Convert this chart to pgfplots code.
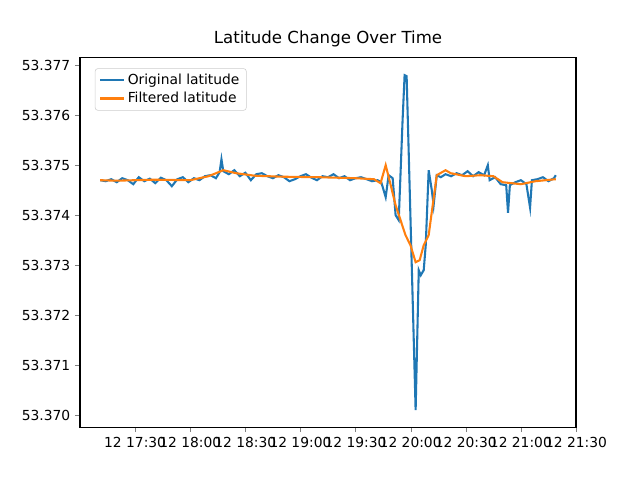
\documentclass[border=0pt]{standalone}
\usepackage{pgfplots}
\pgfplotsset{compat=1.18}
\usepackage{fontspec}
\setmainfont{DejaVu Sans}
\definecolor{cA}{HTML}{1F77B4}
\definecolor{cB}{HTML}{FF7F0E}
\begin{document}
\fontsize{10}{12}\selectfont
\begin{tikzpicture}
\path[use as bounding box] (-0.8in,-0.528in) rectangle (5.6in,4.272in);
\begin{axis}[scale only axis, width=4.96in, height=3.70in,
 xmin=0, xmax=270, ymin=-0.24, ymax=7.16,
 xtick={30,60,90,120,150,180,210,240,270},
 xticklabels={12 17:30,12 18:00,12 18:30,12 19:00,12 19:30,12 20:00,12 20:30,12 21:00,12 21:30},
 ytick={0,1,2,3,4,5,6,7},
 yticklabels={53.370,53.371,53.372,53.373,53.374,53.375,53.376,53.377},
 tick align=outside, tick pos=left, major tick length=3.5pt,
 ticklabel style={font=\fontsize{10}{12}\selectfont},
 title={Latitude Change Over Time}, title style={font=\fontsize{12}{14}\selectfont, yshift=-2pt},
 legend pos=north west, legend cell align=left,
 legend style={draw=black!20, rounded corners=2pt, font=\fontsize{10}{12}\selectfont},
 axis line style={line width=0.8pt}]
\addplot[cA, line width=1.5pt] coordinates {
(11,4.70)(14,4.68)(17,4.72)(20,4.66)(23,4.74)(26,4.70)(29,4.62)(32,4.76)(35,4.68)(38,4.73)(41,4.64)(44,4.75)(47,4.70)(50,4.58)(53,4.72)(56,4.76)(59,4.66)(62,4.74)(65,4.70)(68,4.78)(71,4.80)(74,4.74)(76,4.86)(77,5.12)(78,4.88)(81,4.82)(84,4.90)(87,4.78)(90,4.85)(93,4.70)(96,4.82)(99,4.84)(102,4.78)(105,4.74)(108,4.80)(111,4.76)(114,4.68)(117,4.72)(120,4.78)(123,4.82)(126,4.75)(129,4.70)(132,4.78)(135,4.76)(138,4.82)(141,4.74)(144,4.78)(147,4.70)(150,4.74)(153,4.76)(156,4.72)(159,4.68)(162,4.70)(164,4.66)(166.4,4.36)(168,4.80)(170.2,4.74)(171.8,4.00)(173.5,3.90)(175.6,5.90)(176.7,6.80)(177.8,6.78)(178.9,5.30)(181.1,2.30)(182.7,0.10)(184.4,2.90)(185.5,2.80)(187.1,2.90)(188.2,3.40)(189.8,4.90)(191.5,4.50)(192.5,4.20)(194.2,4.80)(196.4,4.76)(199,4.82)(202,4.78)(205,4.84)(208,4.80)(211,4.88)(214,4.78)(217,4.86)(220,4.80)(222,5.00)(223,4.70)(226,4.76)(229,4.62)(232,4.60)(233,4.05)(234,4.60)(237,4.66)(240,4.70)(243,4.62)(245,4.15)(246,4.70)(249,4.72)(252,4.76)(255,4.68)(258,4.74)(259,4.80)};
\addlegendentry{Original latitude}
\addplot[cB, line width=1.5pt] coordinates {
(11,4.70)(20,4.69)(40,4.71)(60,4.70)(70,4.78)(78,4.90)(85,4.84)(95,4.79)(110,4.77)(130,4.76)(150,4.74)(160,4.72)(163.6,4.64)(166.4,5.00)(169,4.62)(171.8,4.20)(174.5,3.90)(177.2,3.60)(179.9,3.40)(182.7,3.06)(184.9,3.10)(187.1,3.40)(189.8,3.60)(192,4.20)(194.2,4.80)(199,4.90)(201.8,4.84)(210,4.78)(218,4.80)(225,4.78)(230,4.66)(240,4.62)(248,4.68)(259,4.72)};
\addlegendentry{Filtered latitude}
\end{axis}
\end{tikzpicture}
\end{document}
